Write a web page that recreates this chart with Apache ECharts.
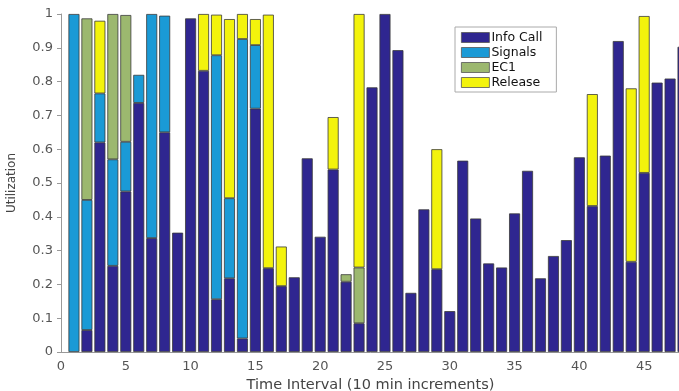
<!DOCTYPE html>
<html>
<head>
<meta charset="utf-8">
<script src="https://cdn.jsdelivr.net/npm/echarts@6/dist/echarts.min.js"></script>
<style>html,body{margin:0;padding:0;background:#fff}#c{width:679px;height:391px}</style>
</head>
<body>
<div id="c"></div>
<script>
const intervals = [1,2,3,4,5,6,7,8,9,10,11,12,13,14,15,16,17,18,19,20,21,22,23,24,25,26,27,28,29,30,31,32,33,34,35,36,37,38,39,40,41,42,43,44,45,46,47,48];
const infoCall = [0,0.065,0.62,0.255,0.475,0.737,0.337,0.65,0.353,0.987,0.832,0.156,0.218,0.04,0.72,0.248,0.195,0.221,0.573,0.341,0.54,0.208,0.085,0.783,1.0,0.893,0.175,0.422,0.245,0.121,0.566,0.395,0.262,0.25,0.41,0.536,0.218,0.284,0.331,0.576,0.432,0.581,0.92,0.267,0.53,0.797,0.809,0.903];
const signals  = [1.0,0.385,0.145,0.315,0.147,0.083,0.663,0.345,0,0,0,0.722,0.237,0.886,0.188,0,0,0,0,0,0,0,0,0,0,0,0,0,0,0,0,0,0,0,0,0,0,0,0,0,0,0,0,0,0,0,0,0];
const ec1      = [0,0.537,0,0.43,0.375,0,0,0,0,0,0,0,0,0,0,0,0,0,0,0,0,0.022,0.165,0,0,0,0,0,0,0,0,0,0,0,0,0,0,0,0,0,0,0,0,0,0,0,0,0];
const release  = [0,0,0.215,0,0,0,0,0,0,0,0.168,0.12,0.53,0.074,0.077,0.75,0.117,0,0,0,0.155,0,0.75,0,0,0,0,0,0.355,0,0,0,0,0,0,0,0,0,0,0,0.331,0,0,0.513,0.464,0,0,0];
const seriesNames = ['Info Call','Signals','EC1','Release'];
const seriesColors = ['#2f2690','#1a9ad6','#9cb86f','#f3f30c'];
const xAxisSlots = ['0','1','2','3','4','5','6','7','8','9','10','11','12','13','14','15','16','17','18','19','20','21','22','23','24','25','26','27','28','29','30','31','32','33','34','35','36','37','38','39','40','41','42','43','44','45','46','47','48','49'];
const xTicks = ['0','5','10','15','20','25','30','35','40','45'];
const yTicks = [0,0.1,0.2,0.3,0.4,0.5,0.6,0.7,0.8,0.9,1];

const valueSets = [infoCall, signals, ec1, release];
const chart = echarts.init(document.getElementById('c'), null, {renderer:'canvas'});
const font = 'DejaVu Sans, sans-serif';
const series = seriesNames.map((name, k) => {
  const data = xAxisSlots.map(() => null);
  intervals.forEach((x, i) => { const v = valueSets[k][i]; data[xAxisSlots.indexOf(String(x))] = v > 0 ? v : null; });
  return {
    name: name,
    type: 'bar',
    stack: 'u',
    barWidth: 11,
    itemStyle: {color: seriesColors[k], borderColor: '#3a3a3a', borderWidth: 0.8},
    emphasis: {disabled: true},
    data: data
  };
});
chart.setOption({
  animation: false,
  backgroundColor: '#fff',
  grid: {left: 61, right: -17, top: 14, bottom: 39, outerBoundsMode: 'none', containLabel: false},
  legend: {
    orient: 'vertical',
    left: 455, top: 27,
    padding: [4, 14, 3, 6],
    itemWidth: 28, itemHeight: 10, itemGap: 2,
    backgroundColor: '#fff',
    borderColor: '#aaa', borderWidth: 1,
    icon: 'rect',
    itemStyle: {borderColor: '#555', borderWidth: 0.8},
    textStyle: {fontFamily: font, fontSize: 12.5, color: '#111', width: 62, padding: [0,0,0,-3]},
    data: seriesNames
  },
  xAxis: {
    type: 'category', data: xAxisSlots, boundaryGap: false,
    name: 'Time Interval (10 min increments)',
    nameLocation: 'middle', nameGap: 23,
    nameTextStyle: {fontFamily: font, fontSize: 14.5, color: '#444', padding: [0, 16, 0, 0]},
    axisLine: {show: true, lineStyle: {color: '#999', width: 1}},
    axisTick: {show: false},
    splitLine: {show: false},
    axisLabel: {fontFamily: font, fontSize: 13, color: '#555', margin: 8, interval: 0,
      formatter: v => xTicks.includes(v) ? v : ''}
  },
  yAxis: {
    type: 'value', min: 0, max: 1, interval: 0.1,
    name: 'Utilization',
    nameLocation: 'middle', nameGap: 43,
    nameTextStyle: {fontFamily: font, fontSize: 12, color: '#444'},
    axisLine: {show: true, lineStyle: {color: '#999', width: 1}},
    axisTick: {show: true, length: 4, lineStyle: {color: '#999'}},
    splitLine: {show: false},
    axisLabel: {fontFamily: font, fontSize: 13, color: '#555', margin: 8,
      formatter: v => { const t = yTicks.find(y => Math.abs(y - v) < 1e-9); return t === undefined ? '' : String(t); }}
  },
  series: series
});
</script>
</body>
</html>
